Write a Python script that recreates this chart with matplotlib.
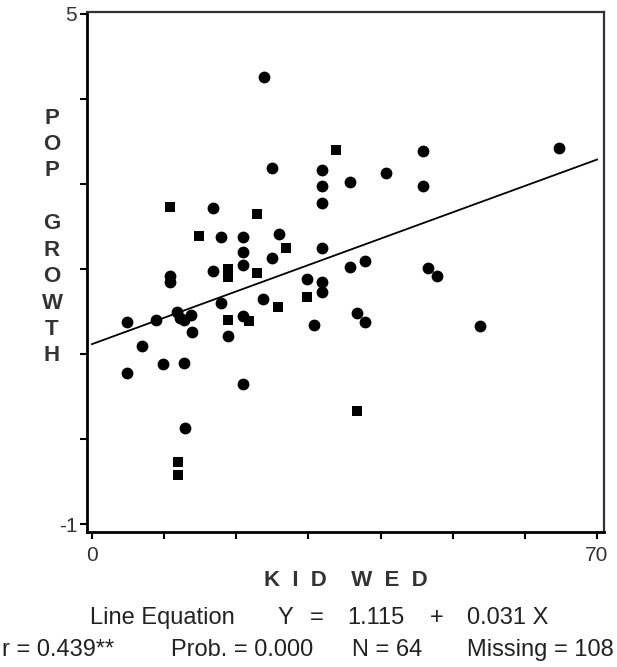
import numpy as np
import matplotlib
matplotlib.use('Agg')
import matplotlib.pyplot as plt

plt.rcParams['font.family'] = ['Liberation Sans', 'DejaVu Sans']

# points drawn as round blobs
circ_x = [23.8, 25.0, 31.9, 31.9, 31.9, 35.8, 40.8, 45.9, 45.9, 64.7,
          25.9, 25.0, 31.9, 29.8, 31.9, 31.9, 23.7,
          35.8, 37.8, 46.6, 47.8, 36.7, 37.8, 30.8, 53.8,
          16.8, 17.9, 20.9, 20.9, 16.8, 20.9, 10.8, 10.8, 17.9,
          4.9, 8.9, 11.8, 12.2, 13.7, 12.8, 20.9, 13.9, 18.9, 6.9,
          4.9, 9.8, 12.8, 20.9, 12.9]
circ_y = [4.26, 3.18, 3.16, 2.98, 2.78, 3.02, 3.13, 3.38, 2.98, 3.42,
          2.41, 2.13, 2.25, 1.88, 1.84, 1.73, 1.64,
          2.02, 2.09, 2.01, 1.92, 1.48, 1.38, 1.34, 1.33,
          2.72, 2.38, 2.38, 2.20, 1.98, 2.04, 1.92, 1.84, 1.60,
          1.38, 1.40, 1.49, 1.42, 1.46, 1.40, 1.44, 1.26, 1.21, 1.09,
          0.78, 0.88, 0.89, 0.65, 0.13]

# points drawn as squares
sq_x = [33.8, 22.9, 26.9, 22.9, 29.8, 25.8, 36.7, 10.8, 14.8, 18.9,
        18.9, 18.9, 21.8, 11.9, 11.9]
sq_y = [3.40, 2.65, 2.24, 1.95, 1.67, 1.55, 0.33, 2.73, 2.39, 2.00,
        1.91, 1.40, 1.39, -0.27, -0.42]

# fitted line
intercept, slope = 1.115, 0.031
line_x = np.array([0, 70])

W, H = 617, 667
fig = plt.figure(figsize=(W / 100, H / 100), dpi=100)
ax = fig.add_axes([87 / W, 1 - 532 / H, 517 / W, 520 / H])

ax.plot(line_x, intercept + slope * line_x, color='black', lw=1.3)
ax.plot(circ_x, circ_y, 'o', color='black', markersize=8.5, markeredgewidth=0)
ax.plot(sq_x, sq_y, 's', color='black', markersize=7.5, markeredgewidth=0)

ax.set_xlim(-0.69, 70.97)
ax.set_ylim(-1.094, 5.02)
ax.set_xticks(range(0, 71, 10))
ax.set_xticklabels(['0', '', '', '', '', '', '', '70'])
ax.set_yticks(range(-1, 6))
ax.set_yticklabels(['-1', '', '', '', '', '', '5'])
ax.tick_params(direction='out', length=5, width=1.5, labelsize=15,
               colors='black', labelcolor='#333333')
ax.tick_params(axis='x', pad=5)
ax.tick_params(axis='y', pad=2)
for side in ['left', 'bottom']:
    ax.spines[side].set_linewidth(2)
for side in ['top', 'right']:
    ax.spines[side].set_linewidth(1.6)
    ax.spines[side].set_color('#333333')

def px(x, y):
    return x / W, 1 - y / H

fig.text(*px(52, 237), 'P\nO\nP\n\nG\nR\nO\nW\nT\nH', ha='center', va='center',
         fontsize=16, fontweight='bold', linespacing=1.34, color='#333333')
fig.text(*px(346, 580), 'K  I  D    W  E  D', ha='center', va='center',
         fontsize=16, fontweight='bold', color='#333333')

# statistics under the chart
row1 = [(90, 'Line Equation', 'left'), (277, 'Y', 'left'), (310, '=', 'left'),
        (347, '1.115', 'left'), (430, '+', 'left'), (467, '0.031 X', 'left')]
row2 = [(2, 'r = 0.439**', 'left'), (313, 'Prob. = 0.000', 'right'),
        (352, 'N = 64', 'left'), (614, 'Missing = 108', 'right')]
for x, s, al in row1:
    fig.text(*px(x, 618), s, ha=al, va='center', fontsize=17, color='#222222')
for x, s, al in row2:
    fig.text(*px(x, 650), s, ha=al, va='center', fontsize=17, color='#222222')

fig.savefig('out.png', dpi=100)
